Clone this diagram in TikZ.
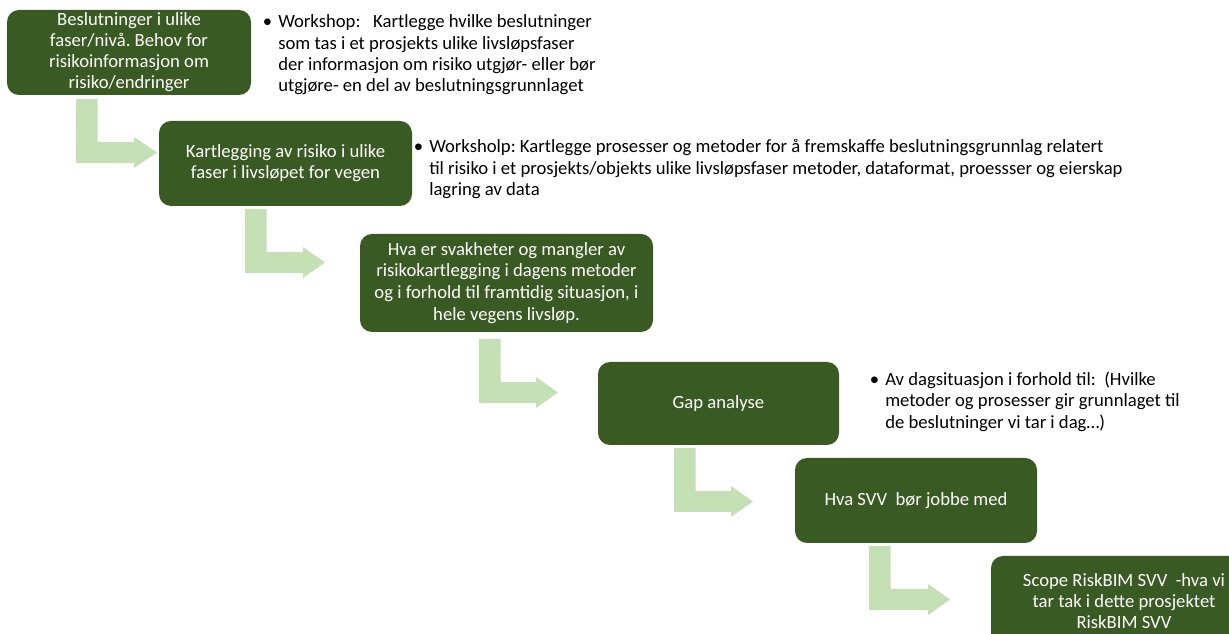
\documentclass[tikz,border=0pt]{standalone}
\usepackage{fontspec}
\setmainfont{Carlito}
\frenchspacing
\definecolor{boxgreen}{HTML}{3A5A23}
\definecolor{arrowgreen}{HTML}{C5E0B4}
\newcommand{\bentarrow}[5]{%
  % #1 bar left x, #2 bar top y, #3 bottom y of horizontal bar, #4 head base x, #5 tip x
  \fill[arrowgreen] (#1,#2) -- (#1+21.5,#2) -- (#1+21.5,#3-21) -- (#4,#3-21) -- (#4,#3-26)
     -- (#5,#3-10.5) -- (#4,#3+5) -- (#4,#3) -- (#1,#3) -- cycle;}
\begin{document}
\begin{tikzpicture}[x=0.75pt,y=-0.75pt,
  box/.style 2 args={draw=none,fill=boxgreen,rounded corners=9pt,text=white,align=center,
     inner sep=0pt,minimum width=#1*0.75pt,minimum height=#2*0.75pt,
     font=\fontsize{14}{15.8}\selectfont},
  note/.style={anchor=north west,align=left,inner sep=0pt,text=black,
     font=\fontsize{14}{16}\selectfont}]
\useasboundingbox (0,0) rectangle (1229,634);
\clip (0,0) rectangle (1229,634);
% boxes
\node[box={244}{85}] (b1) at (129,52.5) {Beslutninger i ulike\\faser/nivå. Behov for\\risikoinformasjon om\\risiko/endringer};
\node[box={253}{85}] (b2) at (285.5,163.5) {Kartlegging av risiko i ulike\\faser i livsløpet for vegen};
\node[box={293}{98}] (b3) at (506.5,283) {\raisebox{-2pt}{\shortstack{Hva er svakheter og mangler av\\[1.2pt]risikokartlegging i dagens metoder\\[1.2pt]og i forhold til framtidig situasjon, i\\[1.2pt]hele vegens livsløp.}}};
\node[box={241}{83}] (b4) at (718.5,403.5) {Gap analyse};
\node[box={242}{85}] (b5) at (916,500.5) {Hva SVV\ \ bør jobbe med};
\node[box={266}{90}] (b6) at (1124,601) {Scope RiskBIM SVV\ \ -hva vi\\tar tak i dette prosjektet\\RiskBIM SVV};
% bent arrows
\bentarrow{76}{99}{163}{134}{157}
\bentarrow{245}{209}{273}{303}{325}
\bentarrow{479}{339}{403}{536}{558}
\bentarrow{674}{448}{512}{731}{753}
\bentarrow{869}{546}{610}{928}{950}
% notes
\node[note] (n1) at (278,14.5) {\llap{•\hspace{4.5pt}}Workshop:\ \ \ Kartlegge hvilke beslutninger\\som tas i et prosjekts ulike livsløpsfaser\\der informasjon om risiko utgjør- eller bør\\utgjøre- en del av beslutningsgrunnlaget};
\node[note] (n2) at (429,139.5) {\llap{•\hspace{4.5pt}}Worksholp: Kartlegge prosesser og metoder for å fremskaffe beslutningsgrunnlag relatert\\til risiko i et prosjekts/objekts ulike livsløpsfaser metoder, dataformat, proessser og eierskap\\lagring av data};
\node[note] (n4) at (885,371.5) {\llap{•\hspace{4.5pt}}Av dagsituasjon i forhold til:\ \ (Hvilke\\metoder og prosesser gir grunnlaget til\\de beslutninger vi tar i dag…)};
\end{tikzpicture}
\end{document}
